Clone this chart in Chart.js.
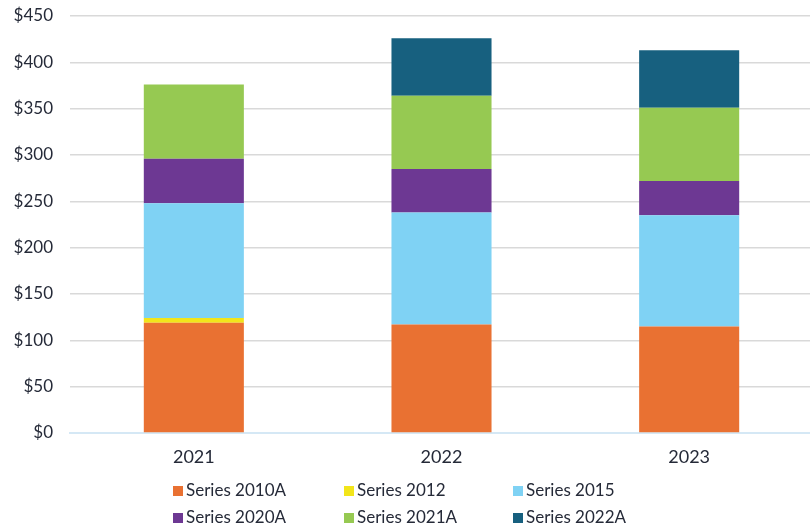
<!DOCTYPE html>
<html>
<head>
<meta charset="utf-8">
<script src="https://cdn.jsdelivr.net/npm/chart.js@4"></script>
<style>
  html, body { margin: 0; padding: 0; background: #fff; overflow: hidden; }
  #wrap { width: 813px; height: 526px; }
</style>
</head>
<body>
<div id="wrap"><canvas id="chart"></canvas></div>
<script>
// Categories and stacked series values
const years = ['2021', '2022', '2023'];
const series2010A = [119, 117, 115];
const series2012 = [5, 0, 0];
const series2015 = [124, 121, 120];
const series2020A = [48, 47, 37];
const series2021A = [80, 79, 79];
const series2022A = [0, 62, 62];

const seriesNames = ['Series 2010A', 'Series 2012', 'Series 2015', 'Series 2020A', 'Series 2021A', 'Series 2022A'];
const seriesColors = ['#E97132', '#F2E51A', '#7FD2F4', '#6D3893', '#96C952', '#17607F'];
const seriesValues = [series2010A, series2012, series2015, series2020A, series2021A, series2022A];

const textColor = '#252a38';

// legend drawn as a 3-column grid under the axis
const gridLegend = {
  id: 'gridLegend',
  afterDraw(chart) {
    const ctx = chart.ctx;
    const colX = [173, 344, 513];
    const rowY = [491, 518];
    ctx.save();
    ctx.font = '17px Lato';
    ctx.textBaseline = 'middle';
    ctx.textAlign = 'left';
    chart.data.datasets.forEach((ds, i) => {
      const x = colX[i % 3];
      const y = rowY[Math.floor(i / 3)];
      ctx.fillStyle = ds.backgroundColor;
      ctx.fillRect(x, y - 5, 10, 10);
      ctx.fillStyle = textColor;
      ctx.fillText(ds.label, x + 13, y);
    });
    ctx.restore();
  }
};

new Chart(document.getElementById('chart').getContext('2d'), {
  type: 'bar',
  data: {
    labels: years,
    datasets: seriesNames.map((name, i) => ({
      label: name,
      data: seriesValues[i],
      backgroundColor: seriesColors[i],
      borderWidth: 0,
      categoryPercentage: 1,
      barPercentage: 0.404
    }))
  },
  options: {
    responsive: true,
    maintainAspectRatio: false,
    animation: false,
    layout: { padding: { top: 16, bottom: 56, left: 0, right: 0 } },
    plugins: {
      legend: { display: false },
      tooltip: { enabled: false }
    },
    scales: {
      x: {
        stacked: true,
        grid: { display: false, drawTicks: false },
        border: { color: '#d5e8f5', width: 2 },
        ticks: { color: textColor, font: { family: 'Lato', size: 18 }, padding: 13 },
        afterFit(scale) { scale.height = 37; }
      },
      y: {
        stacked: true,
        min: 0,
        max: 450,
        grid: { color: '#d9d9d9', lineWidth: 1.5, drawTicks: false },
        border: { display: false },
        ticks: {
          stepSize: 50,
          color: textColor,
          font: { family: 'Lato', size: 17 },
          padding: 17,
          callback: v => '$' + v
        },
        afterFit(scale) {
          scale.width = 70;
          scale.paddingTop = 0;
          scale.paddingBottom = 0;
        }
      }
    }
  },
  plugins: [gridLegend]
});
</script>
</body>
</html>
